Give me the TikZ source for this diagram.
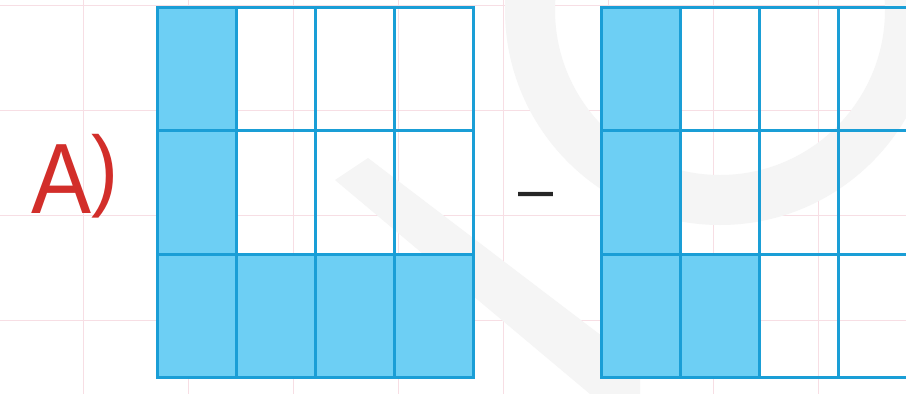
\documentclass[tikz,border=0pt]{standalone}
\usepackage{fontspec}
\setmainfont{Liberation Sans}
\definecolor{cellfill}{HTML}{6DCFF4}
\definecolor{cellline}{HTML}{1A9ED6}
\definecolor{labelred}{HTML}{D22E2A}
\definecolor{gridpink}{HTML}{F7DEE4}
\definecolor{wm}{HTML}{F5F5F5}
\begin{document}
\begin{tikzpicture}[x=1pt,y=-1pt,
  paper/.style={draw=gridpink,line width=0.8pt},
  watermark/.style={fill=wm,draw=none},
  cellon/.style={fill=cellfill,draw=none},
  cellrule/.style={draw=cellline,line width=3pt,line cap=rect},
  labeltext/.style={text=labelred,inner sep=0pt,font=\fontsize{100}{100}\selectfont,xscale=0.9},
  optext/.style={text=black!85,inner sep=0pt,font=\fontsize{63}{63}\selectfont}]
\useasboundingbox (0,0) rectangle (906,394);
\clip (0,0) rectangle (906,394);
\fill[white] (0,0) rectangle (906,394);
% squared paper
\foreach \x in {83,188,293,398,503,608,713,818} \draw[paper] (\x,0) -- (\x,394);
\foreach \y in {5,110,215,320} \draw[paper] (0,\y) -- (906,\y);
% watermark
\fill[watermark,even odd rule] (720,10) circle[radius=215] (720,10) circle[radius=165];
\fill[watermark] (335,180) -- (368,158) -- (640,365) -- (640,394) -- (590,394) -- cycle;
% grid 1
\fill[cellon] (157,7) rectangle (236,377);
\fill[cellon] (157,254) rectangle (473,377);
\foreach \x in {157,236,315,394,473} \draw[cellrule] (\x,7) -- (\x,377);
\foreach \y in {7,130.5,254,377} \draw[cellrule] (157,\y) -- (473,\y);
% grid 2
\fill[cellon] (601,7) rectangle (680,377);
\fill[cellon] (680,254) rectangle (759,377);
\foreach \x in {601,680,759,838,917} \draw[cellrule] (\x,7) -- (\x,377);
\foreach \y in {7,130.5,254,377} \draw[cellrule] (601,\y) -- (917,\y);
% labels
\node[labeltext,anchor=base west] (lab) at (31,213) {A{\fontsize{90}{90}\selectfont\raisebox{14pt}{)}}};
\node[optext,anchor=base] (minus) at (536,210.5) {–};
\end{tikzpicture}
\end{document}
